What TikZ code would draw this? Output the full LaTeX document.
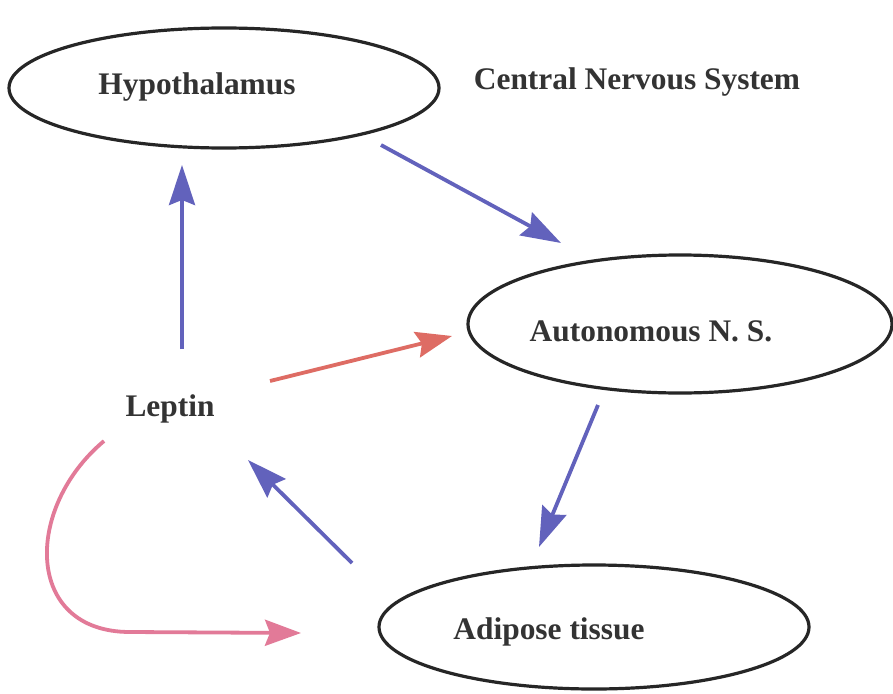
\documentclass[tikz,border=0pt]{standalone}
\usepackage{fontspec}
\setmainfont{Liberation Serif}
\usetikzlibrary{shapes.geometric,arrows.meta}
\definecolor{nerveblue}{RGB}{98,98,188}
\definecolor{leptinred}{RGB}{222,108,100}
\definecolor{leptinpink}{RGB}{226,122,152}
\tikzset{
  organ/.style={ellipse, draw=black!85, line width=3.2pt, inner sep=0pt},
  lbl/.style={font=\fontsize{31.4}{36}\selectfont\bfseries, text=black!80, inner sep=0pt},
  flow/.style={line width=3.8pt, -{Stealth[length=40pt, width=26pt, inset=5pt]}},
  sig/.style={line width=3.8pt, -{Stealth[length=36pt, width=26pt, inset=5pt]}}
}
\begin{document}
\begin{tikzpicture}[x=1pt, y=-1pt]
  \useasboundingbox (0,0) rectangle (893,693);
  \fill[white] (0,0) rectangle (893,693);

  % organs
  \node[organ, minimum width=430pt, minimum height=120pt] (hypo) at (224,88) {};
  \node[organ, minimum width=424pt, minimum height=138pt] (ans) at (680,324) {};
  \node[organ, minimum width=430pt, minimum height=124pt] (adip) at (594,627) {};

  % labels
  \node[lbl] (hypotxt) at (197,87) {Hypothalamus};
  \node[lbl] (cns) at (637,82) {Central Nervous System};
  \node[lbl] (anstxt) at (651,331) {Autonomous N. S.};
  \node[lbl] (adiptxt) at (549,632) {Adipose tissue};
  \node[lbl] (leptin) at (170,409) {Leptin};

  % connector end points
  \coordinate (l1s) at (182,349);  \coordinate (l1e) at (182,165);
  \coordinate (h2s) at (381,145);  \coordinate (h2e) at (561,243);
  \coordinate (l3s) at (270,381);  \coordinate (l3e) at (452,336);
  \coordinate (a4s) at (598,405);  \coordinate (a4e) at (539,547);
  \coordinate (d5s) at (352,563);  \coordinate (d5e) at (248,460);
  \coordinate (c6s) at (104,441);  \coordinate (c6e) at (301,633);

  % signalling paths
  \draw[flow, nerveblue] (l1s) -- (l1e);
  \draw[flow, nerveblue] (h2s) -- (h2e);
  \draw[sig, leptinred] (l3s) -- (l3e);
  \draw[flow, nerveblue] (a4s) -- (a4e);
  \draw[flow, nerveblue] (d5s) -- (d5e);
  \draw[sig, leptinpink] (c6s) .. controls (24,508) and (24,632) .. (130,632) -- (c6e);
\end{tikzpicture}
\end{document}
